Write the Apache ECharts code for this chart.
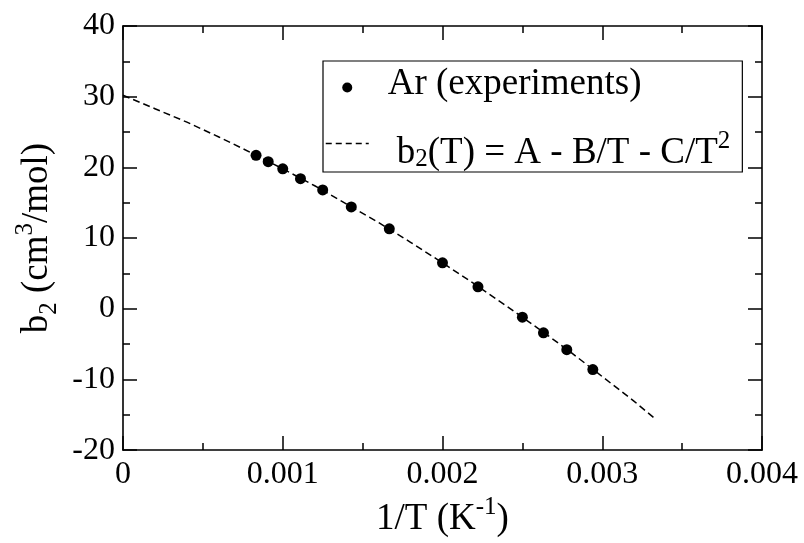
<!DOCTYPE html>
<html>
<head>
<meta charset="utf-8">
<script src="https://cdn.jsdelivr.net/npm/echarts@6/dist/echarts.min.js"></script>
<style>
  html, body { margin: 0; padding: 0; background: #fff; }
  #chart { width: 804px; height: 543px; }
</style>
</head>
<body>
<div id="chart"></div>
<script>
// ---- data ----
const invT = [0.000833, 0.000909, 0.001, 0.001111, 0.00125, 0.001429, 0.001667, 0.002, 0.002222, 0.0025, 0.002632, 0.002778, 0.002941];
const b2Exp = [21.7, 20.8, 19.8, 18.4, 16.8, 14.4, 11.3, 6.5, 3.1, -1.2, -3.4, -5.8, -8.6];

const fitX = [0, 0.0002, 0.0004, 0.0006, 0.0008, 0.001, 0.0012, 0.0014, 0.0016, 0.0018, 0.002, 0.0022, 0.0024, 0.0026, 0.0028, 0.003, 0.0032, 0.003333];
const fitY = [30.2, 28.3, 26.4, 24.3, 22.1, 19.8, 17.4, 14.8, 12.2, 9.4, 6.5, 3.5, 0.4, -2.8, -6.1, -9.6, -13.1, -15.6];

const xTickValues = [0, 0.001, 0.002, 0.003, 0.004];
const xTickLabels = ['0', '0.001', '0.002', '0.003', '0.004'];
const yTickValues = [-20, -10, 0, 10, 20, 30, 40];
const yTickLabels = ['-20', '-10', '0', '10', '20', '30', '40'];

const seriesNames = ['Ar (experiments)', 'fit'];

// ---- chart ----
const FONT = "'Liberation Serif', 'Times New Roman', serif";
const chart = echarts.init(document.getElementById('chart'), null, { renderer: 'canvas' });

function pick(values, labels, v) {
  const i = values.findIndex(t => Math.abs(t - v) < 1e-9);
  return i >= 0 ? labels[i] : '';
}

const axisCommon = {
  axisLine: { show: true, onZero: false, lineStyle: { color: '#000', width: 1.6 } },
  axisTick: { show: true, inside: true, length: 14, lineStyle: { color: '#000', width: 1.5 } },
  minorTick: { show: true, splitNumber: 2, length: 7, lineStyle: { color: '#000', width: 1.5 } },
  splitLine: { show: false },
  minorSplitLine: { show: false }
};

const titleRich = {
  m: { fontFamily: FONT, fontSize: 37, color: '#000', verticalAlign: 'middle' },
  s: { fontFamily: FONT, fontSize: 25, color: '#000', padding: [24, 0, 0, 0], verticalAlign: 'middle' },
  p: { fontFamily: FONT, fontSize: 25, color: '#000', padding: [0, 0, 24, 0], verticalAlign: 'middle' }
};

const xy = invT.map((x, i) => [x, b2Exp[i]]);
const fitData = fitX.map((x, i) => [x, fitY[i]]);

const option = {
  animation: false,
  backgroundColor: '#fff',
  grid: { left: 123, right: 42, top: 26, bottom: 86 },
  xAxis: [
    Object.assign({}, axisCommon, {
      type: 'value', position: 'bottom', min: 0, max: 0.004, interval: 0.001,
      axisLabel: { fontFamily: FONT, fontSize: 32, color: '#000', margin: 8,
        formatter: v => pick(xTickValues, xTickLabels, v) },
      name: '{m|1/T (K}{p|-1}{m|)}',
      nameLocation: 'middle', nameGap: 42,
      nameTextStyle: { fontFamily: FONT, fontSize: 37, color: '#000', rich: titleRich }
    }),
    Object.assign({}, axisCommon, {
      type: 'value', position: 'top', min: 0, max: 0.004, interval: 0.001,
      axisLabel: { show: false }
    })
  ],
  yAxis: [
    Object.assign({}, axisCommon, {
      type: 'value', position: 'left', min: -20, max: 40, interval: 10,
      axisLabel: { fontFamily: FONT, fontSize: 32, color: '#000', margin: 8,
        formatter: v => pick(yTickValues, yTickLabels, v) },
      name: '{m|b}{s|2}{m| (cm}{p|3}{m|/mol)}',
      nameLocation: 'middle', nameGap: 48, nameRotate: 90,
      nameTextStyle: { fontFamily: FONT, fontSize: 37, color: '#000', rich: titleRich }
    }),
    Object.assign({}, axisCommon, {
      type: 'value', position: 'right', min: -20, max: 40, interval: 10,
      axisLabel: { show: false }
    })
  ],
  legend: {
    orient: 'vertical', left: 323, top: 61,
    itemWidth: 43, itemHeight: 10, itemGap: 26,
    padding: [5, 12, 0, 2],
    borderColor: '#000', borderWidth: 1.2,
    selectedMode: false,
    data: [
      { name: seriesNames[0], icon: 'circle', itemStyle: { color: '#000', opacity: 1 } },
      { name: seriesNames[1], itemStyle: { opacity: 0 }, lineStyle: { color: '#000', width: 1.5, type: [6, 4] } }
    ],
    formatter: name => name === seriesNames[0]
      ? '{a|Ar (experiments)}'
      : '{b0|b}{s|2}{m|(T) = A - B/T - C/T}{p|2}',
    textStyle: {
      fontFamily: FONT, fontSize: 37, color: '#000',
      rich: {
        a: { fontFamily: FONT, fontSize: 37, color: '#000', padding: [0, 0, 6, 14], verticalAlign: 'middle' },
        b0: { fontFamily: FONT, fontSize: 37, color: '#000', padding: [20, 0, 0, 23], verticalAlign: 'middle' },
        m: { fontFamily: FONT, fontSize: 37, color: '#000', padding: [20, 0, 0, 0], verticalAlign: 'middle' },
        s: { fontFamily: FONT, fontSize: 25, color: '#000', padding: [32, 0, 0, 0], verticalAlign: 'middle' },
        p: { fontFamily: FONT, fontSize: 25, color: '#000', padding: [0, 0, 4, 0], verticalAlign: 'middle' }
      }
    }
  },
  series: [
    {
      name: seriesNames[1], type: 'line', xAxisIndex: 0, yAxisIndex: 0,
      data: fitData, symbol: 'none', smooth: false, z: 2,
      itemStyle: { color: '#000' },
      lineStyle: { color: '#000', width: 1.5, type: [7, 4] }
    },
    {
      name: seriesNames[0], type: 'scatter', xAxisIndex: 0, yAxisIndex: 0,
      data: xy, symbol: 'circle', symbolSize: 11, z: 3,
      itemStyle: { color: '#000', opacity: 1 }
    }
  ]
};

chart.setOption(option);
</script>
</body>
</html>
